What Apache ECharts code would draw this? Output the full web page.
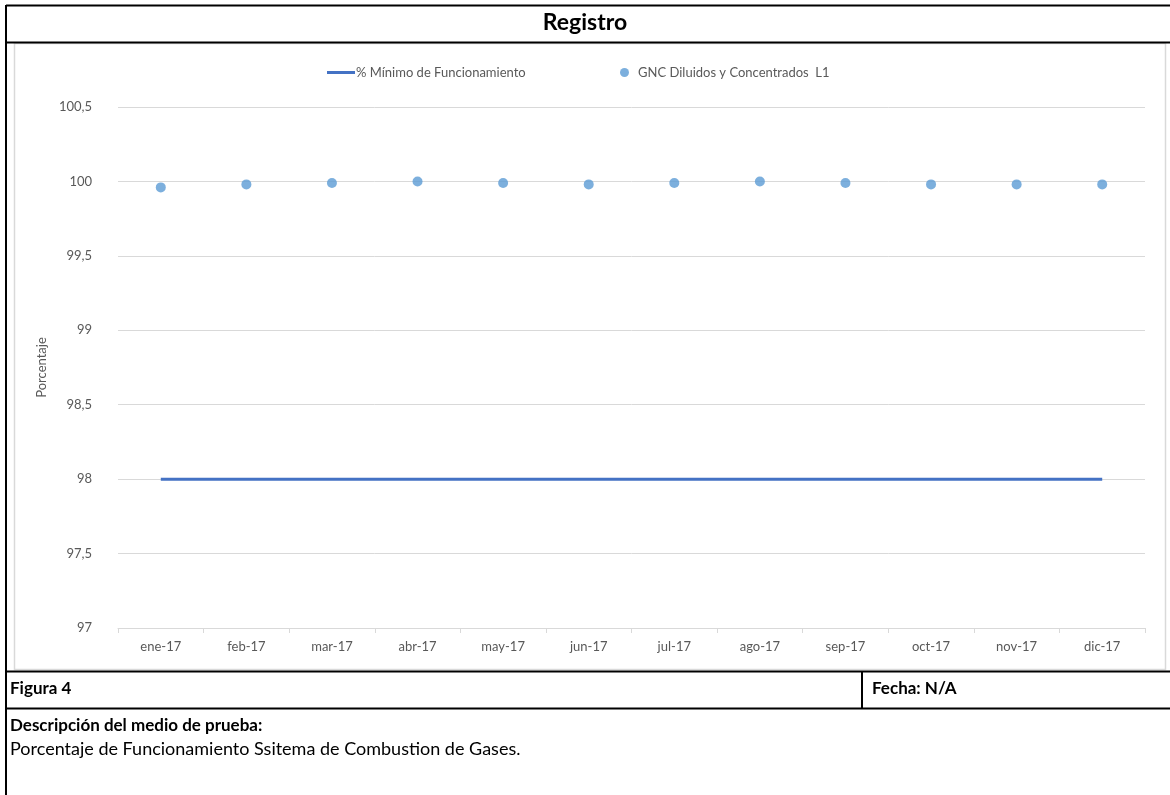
<!DOCTYPE html>
<html>
<head>
<meta charset="utf-8">
<script src="https://cdn.jsdelivr.net/npm/echarts@6/dist/echarts.min.js"></script>
<style>
html,body{margin:0;padding:0;background:#fff;}
#c{width:1170px;height:795px;}
</style>
</head>
<body>
<div id="c"></div>
<script>
var months = ['ene-17','feb-17','mar-17','abr-17','may-17','jun-17','jul-17','ago-17','sep-17','oct-17','nov-17','dic-17'];
var minimo = [98,98,98,98,98,98,98,98,98,98,98,98];
var gnc = [99.96,99.98,99.99,100.0,99.99,99.98,99.99,100.0,99.99,99.98,99.98,99.98];
var yTicks = {min:97, max:100.5, interval:0.5};
var nameMin = '% Mínimo de Funcionamiento';
var nameGnc = 'GNC Diluidos y Concentrados  L1';

var FONT = 'Lato, "Open Sans", sans-serif';
var chart = echarts.init(document.getElementById('c'));
var black = '#000';
chart.setOption({
  animation:false,
  textStyle:{fontFamily:FONT},
  grid:{left:118,right:25,top:107,bottom:167},
  legend:[{
    data:[{name:nameMin, icon:'rect'}],
    left:322, top:61, itemWidth:28, itemHeight:3, itemGap:0,
    textStyle:{color:'#595959', fontSize:13, fontFamily:FONT, padding:[0,0,0,-4]}
  },{
    data:[{name:nameGnc, icon:'circle'}],
    left:615, top:61, itemWidth:9, itemHeight:9,
    textStyle:{color:'#595959', fontSize:13, fontFamily:FONT, padding:[0,0,0,4]}
  }],
  xAxis:{
    type:'category', data:months, boundaryGap:true,
    axisLine:{lineStyle:{color:'#D9D9D9'}},
    axisTick:{show:true, length:5, lineStyle:{color:'#D9D9D9'}},
    axisLabel:{color:'#595959', fontSize:13, margin:12, fontFamily:FONT}
  },
  yAxis:{
    type:'value', min:yTicks.min, max:yTicks.max, interval:yTicks.interval,
    name:'Porcentaje', nameLocation:'middle', nameGap:62, nameRotate:90,
    nameTextStyle:{color:'#595959', fontSize:13, fontFamily:FONT},
    axisLine:{show:false}, axisTick:{show:false},
    splitLine:{lineStyle:{color:'#D9D9D9'}},
    axisLabel:{color:'#595959', fontSize:13, margin:26, fontFamily:FONT,
      formatter:function(v){return String(v).replace('.',',');}}
  },
  series:[{
    name:nameMin, type:'line', data:minimo, showSymbol:false, symbol:'none',
    lineStyle:{color:'#4472C4', width:3}, itemStyle:{color:'#4472C4'}, z:3
  },{
    name:nameGnc, type:'scatter', data:gnc, symbol:'circle', symbolSize:10,
    itemStyle:{color:'#5B9BD5'}, z:4
  }],
  graphic:[
    {type:'rect', shape:{x:14.5,y:43.5,width:1151,height:626}, style:{fill:null, stroke:'#D9D9D9', lineWidth:1.5}, z:0, silent:true},
    {type:'line', shape:{x1:6,y1:5.5,x2:1170,y2:5.5}, style:{stroke:black, lineWidth:2}, z:10},
    {type:'line', shape:{x1:6,y1:5,x2:6,y2:795}, style:{stroke:black, lineWidth:2}, z:10},
    {type:'line', shape:{x1:6,y1:42.5,x2:1170,y2:42.5}, style:{stroke:black, lineWidth:2}, z:10},
    {type:'line', shape:{x1:6,y1:671.5,x2:1170,y2:671.5}, style:{stroke:black, lineWidth:2}, z:10},
    {type:'line', shape:{x1:6,y1:708.5,x2:1170,y2:708.5}, style:{stroke:black, lineWidth:2}, z:10},
    {type:'line', shape:{x1:862,y1:671,x2:862,y2:709}, style:{stroke:black, lineWidth:2}, z:10},
    {type:'text', left:'center', top:11, style:{text:'Registro', font:'bold 23px '+FONT, fill:black}, z:10},
    {type:'text', left:10, top:680, style:{text:'Figura 4', font:'bold 17px '+FONT, fill:black}, z:10},
    {type:'text', left:872, top:680, style:{text:'Fecha: N/A', font:'bold 17px '+FONT, fill:black}, z:10},
    {type:'text', left:10, top:717, style:{text:'Descripción del medio de prueba:', font:'bold 17px '+FONT, fill:black}, z:10},
    {type:'text', left:10, top:740, style:{text:'Porcentaje de Funcionamiento Ssitema de Combustion de Gases.', font:'18px '+FONT, fill:black}, z:10}
  ]
});
</script>
</body>
</html>
